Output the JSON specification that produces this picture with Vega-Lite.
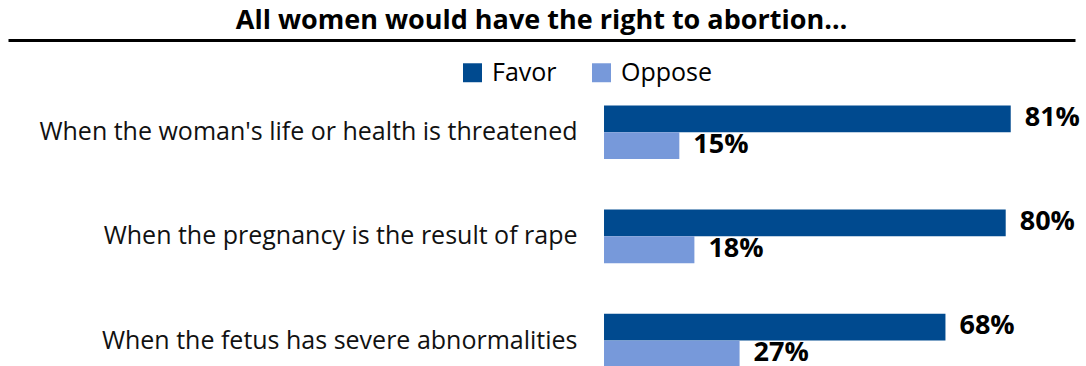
{
  "$schema": "https://vega.github.io/schema/vega-lite/v6.json",
  "width": 1067,
  "height": 326,
  "autosize": {"type": "none"},
  "padding": {"left": 8, "top": 40, "right": 11, "bottom": 0},
  "view": {"stroke": null},
  "title": {"text": "All women would have the right to abortion…", "font": "Open Sans", "fontSize": 27, "fontWeight": "bold", "color": "#000", "anchor": "middle", "offset": 5},
  "data": {"values": [
    {"question": "When the woman's life or health is threatened", "response": "Favor", "pct": 81, "label": "81%"},
    {"question": "When the woman's life or health is threatened", "response": "Oppose", "pct": 15, "label": "15%"},
    {"question": "When the pregnancy is the result of rape", "response": "Favor", "pct": 80, "label": "80%"},
    {"question": "When the pregnancy is the result of rape", "response": "Oppose", "pct": 18, "label": "18%"},
    {"question": "When the fetus has severe abnormalities", "response": "Favor", "pct": 68, "label": "68%"},
    {"question": "When the fetus has severe abnormalities", "response": "Oppose", "pct": 27, "label": "27%"}
  ]},
  "encoding": {
    "y": {"field": "question", "type": "nominal", "sort": null,
      "scale": {"range": [0, 328], "paddingInner": 0.4866, "paddingOuter": 0.317, "align": 0.99},
      "axis": {"title": null, "orient": "left", "offset": -596, "domain": false, "ticks": false, "grid": false, "labelPadding": 27, "labelFont": "Open Sans", "labelFontSize": 25, "labelColor": "#111", "labelLimit": 0}},
    "yOffset": {"field": "response", "type": "nominal", "sort": ["Favor", "Oppose"], "scale": {"paddingInner": 0, "paddingOuter": 0}},
    "x": {"field": "pct", "type": "quantitative", "stack": null,
      "scale": {"domain": [-118.7, 93.8], "zero": false, "nice": false},
      "axis": {"orient": "top", "domain": true, "domainColor": "#000", "domainWidth": 3, "ticks": false, "labels": false, "grid": false, "title": null, "minExtent": 0, "maxExtent": 0}}
  },
  "layer": [
    {
      "mark": {"type": "bar"},
      "encoding": {
        "color": {"field": "response", "type": "nominal", "sort": ["Favor", "Oppose"],
          "scale": {"domain": ["Favor", "Oppose"], "range": ["#004A8F", "#7799DA"]},
          "legend": {"orient": "none", "legendX": 452, "legendY": 20, "direction": "horizontal", "title": null, "symbolType": "square", "symbolSize": 360, "symbolStrokeWidth": 0, "labelFont": "Open Sans", "labelFontSize": 25, "labelColor": "#000", "columnPadding": 32, "labelOffset": 7}}
      }
    },
    {
      "mark": {"type": "text", "align": "left", "baseline": "middle", "dx": 14, "dy": -1, "font": "Open Sans", "fontSize": 27, "fontWeight": "bold", "color": "#000"},
      "encoding": {"text": {"field": "label"}}
    }
  ]
}
